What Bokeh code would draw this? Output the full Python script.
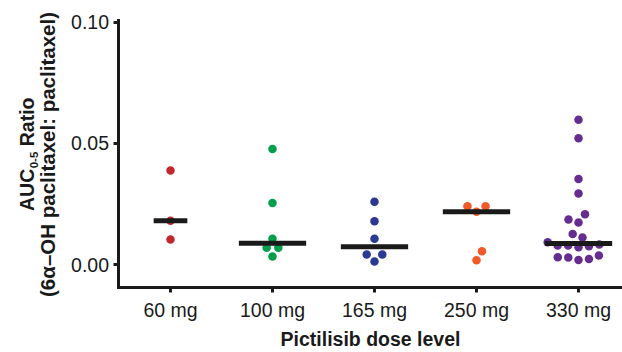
import numpy as np
from bokeh.plotting import figure
from bokeh.models import Range1d, FixedTicker, Label, ColumnDataSource
from bokeh.embed import file_html
from bokeh.resources import INLINE

# ---------------- data ----------------
categories = ["60 mg", "100 mg", "165 mg", "250 mg", "330 mg"]
dose_60 = [0.0388, 0.0180, 0.0103]
dose_100 = [0.0476, 0.0254, 0.0106, 0.0069, 0.0069, 0.0033]
dose_165 = [0.0259, 0.0178, 0.0106, 0.0041, 0.0041, 0.0012]
dose_250 = [0.0240, 0.0240, 0.0218, 0.0055, 0.0018]
dose_330 = [0.0597, 0.0521, 0.0353, 0.0293, 0.0207, 0.0186, 0.0173, 0.0126,
            0.0111, 0.0092, 0.0078, 0.0075, 0.0071, 0.0078, 0.0082,
            0.0037, 0.0029, 0.0019, 0.0023, 0.0030]
y_ticks = [0.00, 0.05, 0.10]
y_tick_labels = ["0.00", "0.05", "0.10"]

groups = [dose_60, dose_100, dose_165, dose_250, dose_330]

# ---------------- styles / layout ----------------
colors = ["#C1272D", "#00A04B", "#2B3990", "#EF5A28", "#662D91"]
median_widths = [0.33, 0.66, 0.66, 0.66, 0.66]
FONT = "Liberation Sans"
INK = "#1a1a1a"

W, H = 622, 352
XPX = 102.0      # pixels per category
YPX = 2425.0     # pixels per unit of ratio
X0_PX = 170.0    # canvas x of first category
Y0_PX = 264.0    # canvas y of value 0
AXIS_X_PX = 117.5
AXIS_Y_PX = 287.0
TOP_PX = 20.0

x_range = Range1d(-X0_PX / XPX, (W - X0_PX) / XPX)
y_range = Range1d(-(H - Y0_PX) / YPX, Y0_PX / YPX)
x_axis_at = (AXIS_X_PX - X0_PX) / XPX
y_axis_at = -(AXIS_Y_PX - Y0_PX) / YPX
y_top = (Y0_PX - TOP_PX) / YPX


def swarm(vals, d):
    """Greedy beeswarm: offsets (px) so dots of diameter d don't overlap."""
    vals = np.asarray(vals, dtype=float)
    order = np.argsort(vals, kind="stable")
    placed = []
    out = np.zeros(len(vals))
    flip = False
    for i in order:
        y = vals[i] * YPX
        cands = [0.0]
        for px, py in placed:
            dy = abs(y - py)
            if dy < d:
                h = np.sqrt(d * d - dy * dy)
                cands += [px + h, px - h]
        cands.sort(key=lambda c: (round(abs(c), 4), c if flip else -c))
        for c in cands:
            if all((c - px) ** 2 + (y - py) ** 2 >= d * d - 1e-6 for px, py in placed):
                break
        if c != 0:
            flip = not flip
        placed.append((c, y))
        out[i] = c
    return out


p = figure(width=W, height=H, x_range=x_range, y_range=y_range,
           output_backend="svg", toolbar_location=None,
           min_border_left=0, min_border_right=0,
           min_border_top=0, min_border_bottom=0)
p.outline_line_color = None
p.grid.visible = False
p.background_fill_color = "white"
p.border_fill_color = "white"

xs, ys, cs = [], [], []
for gi, vals in enumerate(groups):
    offs = swarm(vals, 10.5)
    for v, o in zip(vals, offs):
        xs.append(gi + o / XPX)
        ys.append(v)
        cs.append(colors[gi])
p.scatter(x="x", y="y", color="c", size=8.5, line_width=0,
          source=ColumnDataSource(dict(x=xs, y=ys, c=cs)))

med = [float(np.median(v)) for v in groups]
x0 = [i - w / 2 for i, w in enumerate(median_widths)]
x1 = [i + w / 2 for i, w in enumerate(median_widths)]
p.segment(x0=x0, x1=x1, y0=med, y1=med, line_width=5, line_color=INK,
          line_cap="butt")

for ax in (p.xaxis[0], p.yaxis[0]):
    ax.axis_line_width = 3
    ax.axis_line_color = INK
    ax.axis_line_cap = "square"
    ax.major_tick_line_width = 3
    ax.major_tick_line_color = INK
    ax.major_tick_out = 5
    ax.major_tick_in = 0
    ax.minor_tick_line_color = None
    ax.major_label_text_font = FONT
    ax.major_label_text_font_size = "19.5px"
    ax.major_label_text_color = INK

p.xaxis.fixed_location = y_axis_at
p.xaxis.bounds = (x_axis_at, x_range.end)
p.xaxis.ticker = FixedTicker(ticks=list(range(len(categories))))
p.xaxis.major_label_overrides = {i: c for i, c in enumerate(categories)}
p.xaxis.major_label_standoff = 6
p.xaxis.axis_label = "Pictilisib dose level"
p.xaxis.axis_label_text_font = FONT
p.xaxis.axis_label_text_font_size = "19.5px"
p.xaxis.axis_label_text_font_style = "bold"
p.xaxis.axis_label_text_color = INK
p.xaxis.axis_label_standoff = 4

p.yaxis.fixed_location = x_axis_at
p.yaxis.bounds = (y_axis_at, y_top)
p.yaxis.ticker = FixedTicker(ticks=y_ticks)
p.yaxis.major_label_overrides = {t: l for t, l in zip(y_ticks, y_tick_labels)}
p.yaxis.major_label_standoff = 4

# y-axis title (two lines, with subscript), drawn as rotated labels
ysz = 19.5
ssz = 11.5
lsz = 20.5
lab_kw = dict(x_units="canvas", y_units="canvas", angle=np.pi / 2,
              text_font=FONT, text_font_style="bold", text_color=INK,
              text_baseline="alphabetic")
w_auc = 2.166 * ysz
w_sub = 1.445 * ssz
w_sp = 0.278 * ysz
w_rat = 2.5 * ysz
center = 154
start = center + (w_auc + w_sub + w_sp + w_rat) / 2
p.add_layout(Label(x=26, y=start, text="AUC", text_font_size=f"{ysz}px",
                   text_align="left", **lab_kw))
p.add_layout(Label(x=33, y=start - w_auc - 0.5, text="0-5",
                   text_font_size=f"{ssz}px", text_align="left", **lab_kw))
p.add_layout(Label(x=26, y=start - w_auc - w_sub - w_sp - 0.5, text="Ratio",
                   text_font_size=f"{ysz}px", text_align="left", **lab_kw))
p.add_layout(Label(x=47, y=center, text="(6\u03b1\u2013OH paclitaxel: paclitaxel)",
                   text_font_size=f"{lsz}px", text_align="center", **lab_kw))

open("out.html", "w").write(file_html(p, INLINE))
